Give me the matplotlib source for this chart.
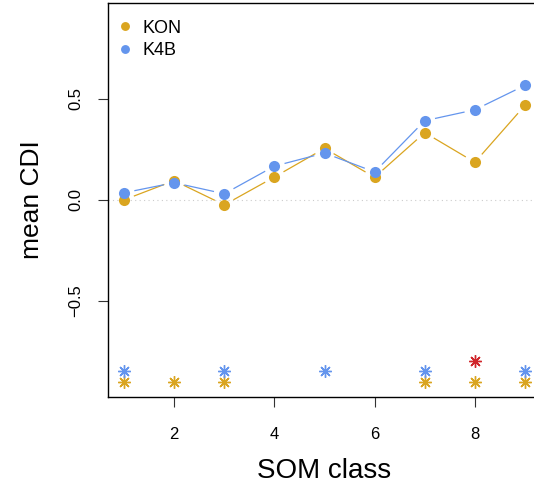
import matplotlib
matplotlib.use("Agg")
import matplotlib.pyplot as plt
import numpy as np

plt.rcParams.update({
    "font.family": ["Liberation Sans", "DejaVu Sans"],
    "axes.unicode_minus": True,
})

# data
som_class = [1, 2, 3, 4, 5, 6, 7, 8, 9]
kon_cdi = [0.000, 0.095, -0.025, 0.113, 0.255, 0.112, 0.333, 0.186, 0.468]
k4b_cdi = [0.035, 0.085, 0.030, 0.167, 0.232, 0.138, 0.392, 0.446, 0.567]

# significance stars (class positions)
kon_sig_x = [1, 2, 3, 7, 8, 9]
kon_sig_y = -0.90
k4b_sig_x = [1, 3, 5, 7, 9]
k4b_sig_y = -0.85
both_sig_x = [8]
both_sig_y = -0.80

KON_COL = "#DAA520"
K4B_COL = "#6495ED"
RED_COL = "#D0262B"

W, H, DPI = 534, 488, 100
fig = plt.figure(figsize=(W / DPI, H / DPI), dpi=DPI)
ax = fig.add_axes([108 / W, (H - 396.7) / H, (541 - 108) / W, (396.7 - 3) / H])
ax.set_xlim(0.68, 9.32)
ax.set_ylim(-0.975, 0.975)


def gapped_line(x, y, color, gap=10.5):
    """Draw R type='b' style segments: lines stop short of the points."""
    fig.canvas.draw()
    pts = ax.transData.transform(np.column_stack([x, y]))
    inv = ax.transData.inverted()
    for p0, p1 in zip(pts[:-1], pts[1:]):
        d = p1 - p0
        L = np.hypot(*d)
        if L <= 2 * gap:
            continue
        u = d / L
        a = inv.transform(p0 + u * gap)
        b = inv.transform(p1 - u * gap)
        ax.plot([a[0], b[0]], [a[1], b[1]], color=color, lw=0.9,
                solid_capstyle="butt")


ax.axhline(0, color="#cccccc", lw=0.8, ls=(0, (1, 3)), zorder=0)

gapped_line(som_class, kon_cdi, KON_COL)
gapped_line(som_class, k4b_cdi, K4B_COL)
ax.plot(som_class, kon_cdi, "o", color=KON_COL, ms=8, mec="none", label="KON")
ax.plot(som_class, k4b_cdi, "o", color=K4B_COL, ms=8, mec="none", label="K4B")

star = (8, 2, 0)
ax.plot(kon_sig_x, [kon_sig_y] * len(kon_sig_x), ls="none", marker=star,
        color=KON_COL, ms=9, mew=1.0)
ax.plot(k4b_sig_x, [k4b_sig_y] * len(k4b_sig_x), ls="none", marker=star,
        color=K4B_COL, ms=9, mew=1.0)
ax.plot(both_sig_x, [both_sig_y] * len(both_sig_x), ls="none", marker=star,
        color=RED_COL, ms=9, mew=1.0)

ax.set_xticks([2, 4, 6, 8])
ax.set_yticks([-0.5, 0.0, 0.5])
ax.set_yticklabels(["\u22120.5", "0.0", "0.5"], rotation=90, va="center")
ax.tick_params(length=7.5, width=0.8, labelsize=12, color="#333333")
ax.tick_params(axis="x", pad=14)
ax.tick_params(axis="y", pad=10)
ax.spines["right"].set_visible(False)
for s in ("left", "bottom", "top"):
    ax.spines[s].set_linewidth(1.0)

ax.set_xlabel("SOM class", fontsize=20, labelpad=12)
ax.set_ylabel("mean CDI", fontsize=19, labelpad=18)

ax.legend(loc="upper left", frameon=False, fontsize=13, handlelength=0.5,
          handletextpad=0.7, borderaxespad=0.3, labelspacing=0.3,
          markerscale=0.8, bbox_to_anchor=(0.0, 0.99))

fig.savefig("out.png", dpi=DPI)
